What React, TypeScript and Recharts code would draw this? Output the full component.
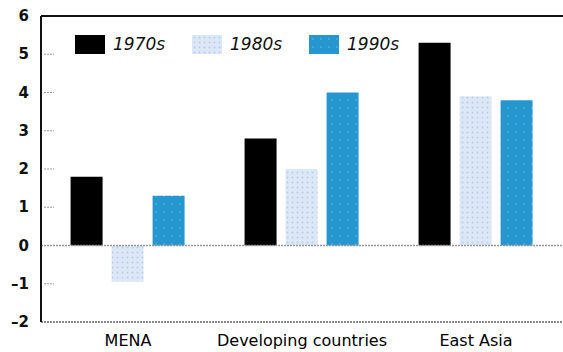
import { Bar, BarChart, ReferenceLine, XAxis, YAxis } from 'recharts';

const regions = ['MENA', 'Developing countries', 'East Asia'];
const growth1970s = [1.8, 2.8, 5.3];
const growth1980s = [-0.95, 2.0, 3.9];
const growth1990s = [1.3, 4.0, 3.8];
const yTicks = [-2, -1, 0, 1, 2, 3, 4, 5, 6];

const data = regions.map((region, i) => ({
  region,
  d1970: growth1970s[i],
  d1980: growth1980s[i],
  d1990: growth1990s[i],
}));

const series = [
  { key: 'd1970', name: '1970s', fill: '#000000' },
  { key: 'd1980', name: '1980s', fill: 'url(#dots80)' },
  { key: 'd1990', name: '1990s', fill: 'url(#dots90)' },
];

const font = '"DejaVu Sans", sans-serif';

function YTick({ x, y, payload }: any) {
  const v = payload.value as number;
  return (
    <g>
      <text
        x={x + 1}
        y={y}
        dy={5}
        textAnchor="end"
        fontFamily={font}
        fontWeight="bold"
        fontSize={15}
        fill="#111"
      >
        {v < 0 ? `–${Math.abs(v)}` : v}
      </text>
      {v > -2 && v < 6 && v !== 0 ? (
        <line x1={x + 16} x2={x + 26} y1={y} y2={y} stroke="#999" strokeDasharray="2 1" />
      ) : null}
    </g>
  );
}

function Patterns() {
  return (
    <svg width={0} height={0} style={{ position: 'absolute' }}>
      <defs>
        <pattern id="dots80" width="5" height="5" patternUnits="userSpaceOnUse">
          <rect width="5" height="5" fill="#dde8f6" />
          <circle cx="2.5" cy="2.5" r="1" fill="#b9cdee" />
        </pattern>
        <pattern id="dots90" width="8" height="8" patternUnits="userSpaceOnUse">
          <rect width="8" height="8" fill="#2596cf" />
          <circle cx="4" cy="4" r="0.9" fill="#4db0dc" />
        </pattern>
      </defs>
    </svg>
  );
}

function LegendBox() {
  return (
    <div
      style={{
        position: 'absolute',
        top: 34,
        left: 75,
        display: 'flex',
        fontFamily: font,
        fontStyle: 'italic',
        fontSize: 17,
      }}
    >
      {series.map((s) => (
        <div key={s.key} style={{ display: 'flex', alignItems: 'center', width: 117 }}>
          <svg width={30} height={19} style={{ marginRight: 8 }}>
            <rect width={30} height={19} fill={s.fill} />
          </svg>
          <span style={{ color: '#111' }}>{s.name}</span>
        </div>
      ))}
    </div>
  );
}

export default function App() {
  return (
    <div style={{ position: 'absolute', left: 0, top: 0, width: 563, height: 352, background: '#fff' }}>
      <Patterns />
      <BarChart
        width={563}
        height={352}
        data={data}
        margin={{ top: 16, right: 0, left: 0, bottom: 0 }}
        barCategoryGap="17%"
        barGap={9}
      >
        <XAxis
          dataKey="region"
          height={30}
          axisLine={{ stroke: '#888', strokeDasharray: '2 1', strokeWidth: 2 }}
          tickLine={false}
          tickMargin={7}
          tick={{ fontFamily: font, fontSize: 16, fill: '#000' }}
          interval={0}
        />
        <YAxis
          yAxisId="l"
          width={41}
          domain={[-2, 6]}
          ticks={yTicks}
          axisLine={{ stroke: '#111', strokeWidth: 2 }}
          tickLine={false}
          tickSize={0}
          tickMargin={13}
          tick={<YTick />}
          interval={0}
        />
        <YAxis
          yAxisId="r"
          orientation="right"
          width={0}
          mirror
          domain={[-2, 6]}
          ticks={[-1, 1, 2, 3, 4, 5]}
          axisLine={false}
          tick={false}
          tickSize={8}
          tickLine={{ stroke: '#999', strokeDasharray: '2 1' }}
        />
        <ReferenceLine yAxisId="l" y={6} stroke="#111" strokeWidth={2} />
        <ReferenceLine yAxisId="l" y={0} stroke="#999" strokeDasharray="2 1" strokeWidth={1.5} />
        {series.map((s) => (
          <Bar
            key={s.key}
            yAxisId="l"
            dataKey={s.key}
            name={s.name}
            fill={s.fill}
            isAnimationActive={false}
          />
        ))}
      </BarChart>
      <LegendBox />
    </div>
  );
}
